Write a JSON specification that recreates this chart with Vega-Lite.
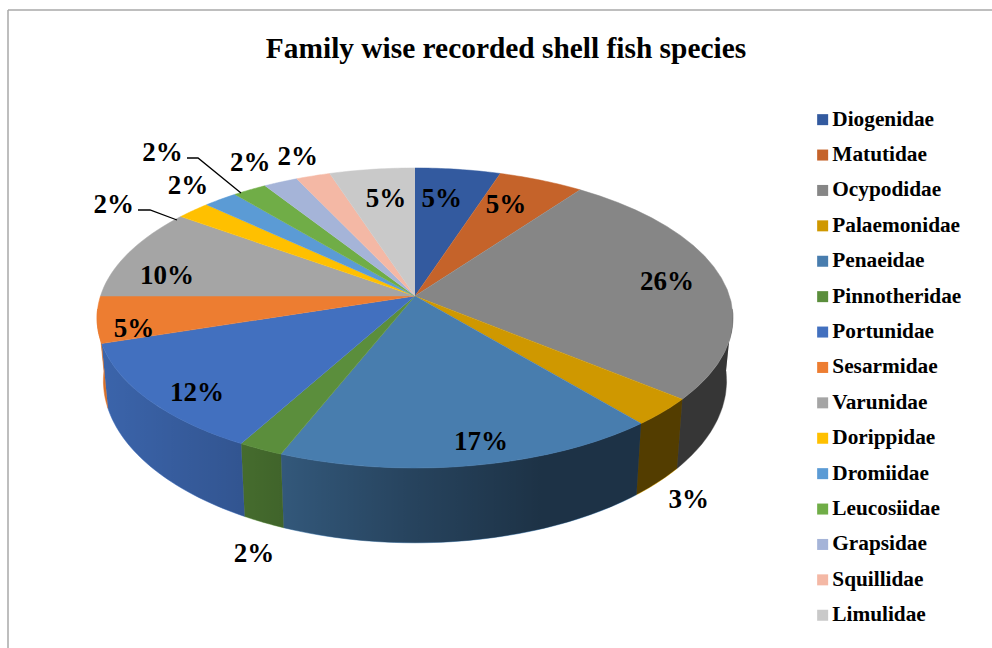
{
  "$schema": "https://vega.github.io/schema/vega-lite/v6.json",
  "width": 992,
  "height": 648,
  "padding": 0,
  "autosize": {"type": "none"},
  "background": "white",
  "view": {"stroke": null},
  "title": {
    "text": "Family wise recorded shell fish species",
    "anchor": "middle",
    "dx": 10,
    "dy": 68,
    "font": "Liberation Serif",
    "fontSize": 29.4,
    "fontWeight": "bold",
    "color": "black"
  },
  "params": [
    {"name": "pieCx", "value": 415},
    {"name": "pieCy", "value": 296},
    {"name": "spanX", "value": 314.5},
    {"name": "spanY", "value": 146.8},
    {"name": "persp", "value": 0.1467},
    {"name": "floorCy", "value": 357},
    {"name": "floorSx", "value": 0.98},
    {"name": "floorSy", "value": 1.08},
    {"name": "faceSteps", "value": [-1,0,0.05,0.1,0.15,0.2,0.25,0.3,0.35,0.4,0.45,0.5,0.55,0.6,0.65,0.7,0.75,0.8,0.85,0.9,0.95,1]},
    {"name": "wallSteps", "value": [0,1,2,3,4,5,6,7,8,9,10,11,12,13,14,15,16,17,18,19,20,21,22,23,24,25,26,27,28,29,30,31,32,33,34,35,36,37,38,39,40,41,42,43,44,45,46,47,48,49,50,51,52,53,54,55,56,57,58,59,60,61,62,63,64,65,66,67,68,69,70,71,72,73,74,75,76,77,78,79,80,81]},
    {"name": "labelPolar", "value": {
      "Diogenidae": [0.746, 7], "Matutidae": [0.759, 24.5], "Ocypodidae": [0.817, 82.7],
      "Palaemonidae": [1.357, 147.9], "Penaeidae": [0.882, 168.2], "Pinnotheridae": [1.452, 196.4],
      "Portunidae": [0.872, 226.8], "Sesarmidae": [0.894, 256.4], "Varunidae": [0.822, 280.2],
      "Dorippidae": [1.263, 303.1], "Dromiidae": [1.176, 316.1],
      "Leucosiidae": [1.484, 320.6], "Grapsidae": [1.217, 330], "Squillidae": [1.192, 338.5],
      "Limulidae": [0.748, 351.9]
    }},
    {"name": "leaders", "value": {
      "Dorippidae": [[138, 210], [150, 210], [177, 220]],
      "Leucosiidae": [[187, 158], [198, 158], [241, 193]]
    }}
  ],
  "data": {
    "values": [
      {"family": "Diogenidae", "order": 1, "value": 5},
      {"family": "Matutidae", "order": 2, "value": 5},
      {"family": "Ocypodidae", "order": 3, "value": 26},
      {"family": "Palaemonidae", "order": 4, "value": 3},
      {"family": "Penaeidae", "order": 5, "value": 17},
      {"family": "Pinnotheridae", "order": 6, "value": 2},
      {"family": "Portunidae", "order": 7, "value": 12},
      {"family": "Sesarmidae", "order": 8, "value": 5},
      {"family": "Varunidae", "order": 9, "value": 10},
      {"family": "Dorippidae", "order": 10, "value": 2},
      {"family": "Dromiidae", "order": 11, "value": 2},
      {"family": "Leucosiidae", "order": 12, "value": 2},
      {"family": "Grapsidae", "order": 13, "value": 2},
      {"family": "Squillidae", "order": 14, "value": 2},
      {"family": "Limulidae", "order": 15, "value": 5}
    ]
  },
  "transform": [
    {"stack": "value", "groupby": [], "sort": [{"field": "order"}], "as": ["start", "end"]}
  ],
  "encoding": {
    "x": {"field": "px", "type": "quantitative", "scale": {"domain": [0, 992], "nice": false, "zero": false}, "axis": null},
    "y": {"field": "py", "type": "quantitative", "scale": {"domain": [648, 0], "nice": false, "zero": false}, "axis": null}
  },
  "layer": [
    {
      "description": "Chart border, open towards the right and bottom edges",
      "transform": [
        {"filter": "datum.order === 1"},
        {"calculate": "8", "as": "px"},
        {"calculate": "10", "as": "py"},
        {"calculate": "648", "as": "py2"}
      ],
      "mark": {"type": "rule", "color": "#a8a8a8", "strokeWidth": 1.5},
      "encoding": {"y2": {"field": "py2"}}
    },
    {
      "transform": [
        {"filter": "datum.order === 1"},
        {"calculate": "8", "as": "px"},
        {"calculate": "992", "as": "px2"},
        {"calculate": "10", "as": "py"}
      ],
      "mark": {"type": "rule", "color": "#a8a8a8", "strokeWidth": 1.5},
      "encoding": {"x2": {"field": "px2"}}
    },
    {
      "description": "Outer wall of the disc, one section per family",
      "transform": [
        {"calculate": "max(datum.start * 3.6, 95)", "as": "a0"},
        {"calculate": "min(datum.end * 3.6, 265)", "as": "a1"},
        {"filter": "datum.a1 > datum.a0"},
        {"calculate": "wallSteps", "as": "idx"},
        {"flatten": ["idx"]},
        {"calculate": "datum.idx <= 40 ? datum.idx / 40 : (81 - datum.idx) / 40", "as": "t"},
        {"calculate": "(datum.a0 + datum.t * (datum.a1 - datum.a0)) * PI / 180", "as": "th"},
        {"calculate": "1 + persp * cos(datum.th)", "as": "den"},
        {"calculate": "spanX * sin(datum.th) / datum.den", "as": "dx"},
        {"calculate": "-spanY * cos(datum.th) / datum.den", "as": "dy"},
        {"calculate": "datum.idx <= 40 ? pieCx + datum.dx : pieCx + floorSx * datum.dx", "as": "px"},
        {"calculate": "datum.idx <= 40 ? pieCy + datum.dy : floorCy + floorSy * datum.dy", "as": "py"}
      ],
      "mark": {"type": "line", "strokeWidth": 0.6, "interpolate": "linear"},
      "encoding": {
        "order": {"field": "idx", "type": "quantitative"},
        "fill": {"field": "family", "type": "nominal"},
        "stroke": {"field": "family", "type": "nominal", "legend": null, "scale": {
          "domain": ["Diogenidae","Matutidae","Ocypodidae","Palaemonidae","Penaeidae","Pinnotheridae","Portunidae","Sesarmidae","Varunidae","Dorippidae","Dromiidae","Leucosiidae","Grapsidae","Squillidae","Limulidae"],
          "range": ["#335A9F","#C5632A","#868686","#CF9800","#487DAE","#5B8E3C","#4270BF","#ED7D31","#A5A5A5","#FFC000","#5B9BD5","#70AD47","#A5B4D8","#F4B8A5","#C9C9C9"]}}
      }
    },
    {
      "description": "Shading across the whole wall, dark on the right",
      "transform": [
        {"aggregate": [{"op": "min", "field": "start", "as": "start"}, {"op": "max", "field": "end", "as": "end"}]},
        {"calculate": "wallSteps", "as": "idx"},
        {"flatten": ["idx"]},
        {"calculate": "datum.idx <= 40 ? datum.idx / 40 : (81 - datum.idx) / 40", "as": "t"},
        {"calculate": "(95 + datum.t * 170) * PI / 180", "as": "th"},
        {"calculate": "1 + persp * cos(datum.th)", "as": "den"},
        {"calculate": "spanX * sin(datum.th) / datum.den", "as": "dx"},
        {"calculate": "-spanY * cos(datum.th) / datum.den", "as": "dy"},
        {"calculate": "datum.idx <= 40 ? pieCx + datum.dx : pieCx + floorSx * datum.dx", "as": "px"},
        {"calculate": "datum.idx <= 40 ? pieCy + datum.dy : floorCy + floorSy * datum.dy", "as": "py"}
      ],
      "mark": {
        "type": "line",
        "strokeWidth": 0,
        "fill": {
          "gradient": "linear", "x1": 0, "x2": 1, "y1": 0, "y2": 0,
          "stops": [
            {"offset": 0, "color": "rgba(0,0,0,0.1)"},
            {"offset": 0.24, "color": "rgba(0,0,0,0.25)"},
            {"offset": 0.32, "color": "rgba(0,0,0,0.32)"},
            {"offset": 0.49, "color": "rgba(0,0,0,0.46)"},
            {"offset": 0.7, "color": "rgba(0,0,0,0.6)"},
            {"offset": 1, "color": "rgba(0,0,0,0.6)"}
          ]
        }
      },
      "encoding": {"order": {"field": "idx", "type": "quantitative"}}
    },
    {
      "description": "Top face of the disc, one wedge per family",
      "transform": [
        {"calculate": "faceSteps", "as": "t"},
        {"flatten": ["t"]},
        {"calculate": "(datum.start + datum.t * (datum.end - datum.start)) * PI / 50", "as": "th"},
        {"calculate": "datum.t < 0 ? 0 : sin(datum.th)", "as": "u"},
        {"calculate": "datum.t < 0 ? 0 : cos(datum.th)", "as": "v"},
        {"calculate": "1 + persp * datum.v", "as": "den"},
        {"calculate": "pieCx + spanX * datum.u / datum.den", "as": "px"},
        {"calculate": "pieCy - spanY * datum.v / datum.den", "as": "py"}
      ],
      "mark": {"type": "line", "strokeWidth": 0.5},
      "encoding": {
        "order": {"field": "t", "type": "quantitative"},
        "fill": {
          "field": "family", "type": "nominal",
          "scale": {
            "domain": ["Diogenidae","Matutidae","Ocypodidae","Palaemonidae","Penaeidae","Pinnotheridae","Portunidae","Sesarmidae","Varunidae","Dorippidae","Dromiidae","Leucosiidae","Grapsidae","Squillidae","Limulidae"],
            "range": ["#335A9F","#C5632A","#868686","#CF9800","#487DAE","#5B8E3C","#4270BF","#ED7D31","#A5A5A5","#FFC000","#5B9BD5","#70AD47","#A5B4D8","#F4B8A5","#C9C9C9"]
          },
          "legend": {
            "title": null,
            "orient": "none",
            "legendX": 812,
            "legendY": 109,
            "symbolType": "square",
            "symbolSize": 121,
            "symbolStrokeWidth": 0,
            "labelFont": "Liberation Serif",
            "labelFontSize": 21.3,
            "labelFontWeight": "bold",
            "labelColor": "black",
            "labelOffset": -1,
            "rowPadding": 13.4,
            "labelLimit": 300
          }
        },
        "stroke": {"field": "family", "type": "nominal", "legend": null, "scale": {
          "domain": ["Diogenidae","Matutidae","Ocypodidae","Palaemonidae","Penaeidae","Pinnotheridae","Portunidae","Sesarmidae","Varunidae","Dorippidae","Dromiidae","Leucosiidae","Grapsidae","Squillidae","Limulidae"],
          "range": ["#335A9F","#C5632A","#868686","#CF9800","#487DAE","#5B8E3C","#4270BF","#ED7D31","#A5A5A5","#FFC000","#5B9BD5","#70AD47","#A5B4D8","#F4B8A5","#C9C9C9"]}}
      }
    },
    {
      "description": "Leader lines for the two labels set furthest from their wedges",
      "transform": [
        {"filter": "isValid(leaders[datum.family])"},
        {"calculate": "leaders[datum.family]", "as": "pt"},
        {"flatten": ["pt"]},
        {"calculate": "datum.pt[0]", "as": "px"},
        {"calculate": "datum.pt[1]", "as": "py"}
      ],
      "mark": {"type": "line", "color": "black", "strokeWidth": 1.3},
      "encoding": {"detail": {"field": "family"}}
    },
    {
      "description": "Percentage labels",
      "transform": [
        {"calculate": "datum.value + '%'", "as": "pct"},
        {"calculate": "labelPolar[datum.family][0]", "as": "r"},
        {"calculate": "labelPolar[datum.family][1] * PI / 180", "as": "th"},
        {"calculate": "datum.r * sin(datum.th)", "as": "u"},
        {"calculate": "datum.r * cos(datum.th)", "as": "v"},
        {"calculate": "1 + persp * datum.v", "as": "den"},
        {"calculate": "pieCx + spanX * datum.u / datum.den", "as": "px"},
        {"calculate": "pieCy - spanY * datum.v / datum.den", "as": "py"}
      ],
      "mark": {"type": "text", "font": "Liberation Serif", "fontSize": 27, "fontWeight": "bold", "color": "black", "align": "center", "baseline": "middle", "dx": 1, "dy": 1},
      "encoding": {"text": {"field": "pct"}}
    }
  ]
}
